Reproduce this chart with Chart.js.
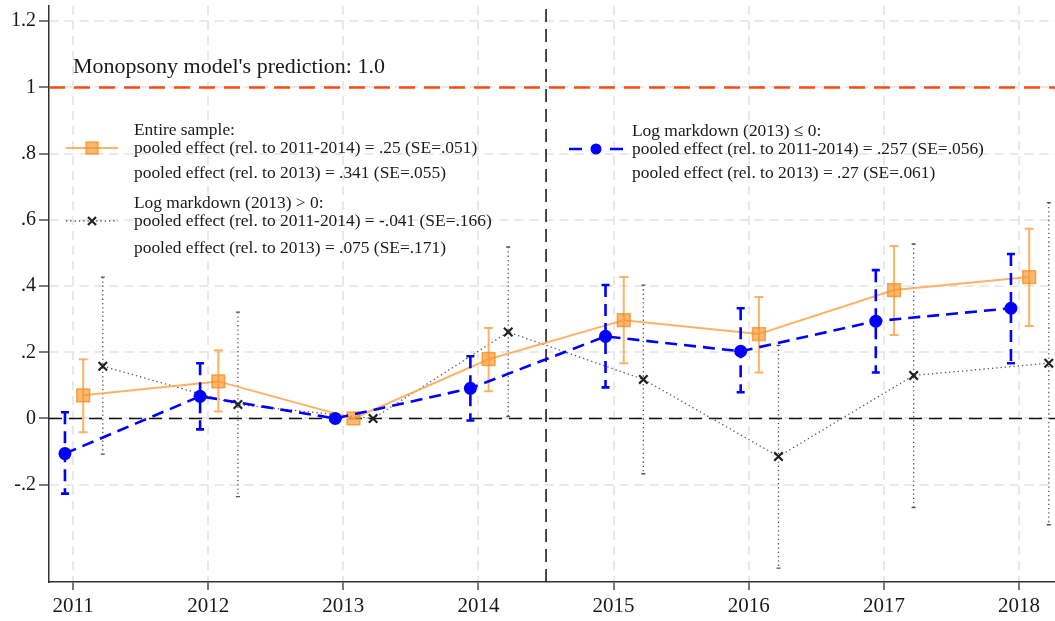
<!DOCTYPE html>
<html>
<head>
<meta charset="utf-8">
<script src="https://cdn.jsdelivr.net/npm/chart.js@4.4.1/dist/chart.umd.min.js"></script>
<style>
  html, body { margin: 0; padding: 0; background: #fff; }
  #wrap { width: 1055px; height: 621px; }
</style>
</head>
<body>
<div id="wrap"><canvas id="c" width="1055" height="621"></canvas></div>
<script>
// Event-study coefficients by year (2013 is the reference year)
const years = [2011, 2012, 2013, 2014, 2015, 2016, 2017, 2018];
const xTickLabels = ['2011', '2012', '2013', '2014', '2015', '2016', '2017', '2018'];
const yTicks = [-0.2, 0, 0.2, 0.4, 0.6, 0.8, 1.0, 1.2];
const yTickLabels = ['-.2', '0', '.2', '.4', '.6', '.8', '1', '1.2'];

// Entire sample
const entireEst = [0.070, 0.112, 0, 0.179, 0.297, 0.255, 0.388, 0.427];
const entireLo  = [-0.042, 0.021, null, 0.082, 0.167, 0.139, 0.252, 0.279];
const entireHi  = [0.179, 0.206, null, 0.273, 0.427, 0.367, 0.521, 0.573];

// Log markdown (2013) <= 0
const lowEst = [-0.106, 0.067, 0, 0.091, 0.248, 0.203, 0.294, 0.333];
const lowLo  = [-0.227, -0.033, null, -0.006, 0.094, 0.079, 0.139, 0.167];
const lowHi  = [0.019, 0.167, null, 0.188, 0.403, 0.333, 0.448, 0.497];

// Log markdown (2013) > 0
const highEst = [0.158, 0.042, 0, 0.261, 0.118, -0.115, 0.130, 0.167];
const highLo  = [-0.108, -0.236, null, 0.006, -0.167, -0.452, -0.269, -0.321];
const highHi  = [0.427, 0.321, null, 0.518, 0.403, 0.221, 0.527, 0.652];

// Reference lines
const zeroLine = 0;
const predictionLine = 1.0;
const policyYear = 2014.5;

// Horizontal offsets so the three series don't overlap
const offsets = { low: -0.06, entire: 0.075, high: 0.22 };
const xRange = [2010.822, 2018.266];
const yRange = [-0.494, 1.246];

const FONT = "'Liberation Serif', 'Times New Roman', serif";

const ORANGE_LINE = 'rgba(253, 170, 90, 0.9)';
const ORANGE_FILL = 'rgba(247, 148, 40, 0.65)';
const ORANGE_EDGE = 'rgba(247, 140, 30, 0.75)';
const BLUE = '#0000ff';
const DOT_GRAY = '#555555';
const RED = '#ff4a12';

const pts = (est, off) => years.map((yr, i) => ({ x: yr + off, y: est[i] }));

const series = {
  entire: { lo: entireLo, hi: entireHi, off: offsets.entire, color: ORANGE_LINE, width: 2, dash: [], cap: 4.5 },
  low:    { lo: lowLo, hi: lowHi, off: offsets.low, color: BLUE, width: 2.6, dash: [12, 7], cap: 4 },
  high:   { lo: highLo, hi: highHi, off: offsets.high, color: DOT_GRAY, width: 1.3, dash: [1.3, 3], cap: 2 }
};

// Confidence intervals are drawn just before their own series
const errorBars = {
  id: 'errorBars',
  beforeDatasetDraw(chart, args) {
    const key = chart.data.datasets[args.index].seriesKey;
    if (!key) return;
    const s = series[key];
    const { ctx, chartArea: a, scales: { x, y } } = chart;
    ctx.save();
    ctx.beginPath();
    ctx.rect(a.left, a.top, a.width, a.height);
    ctx.clip();
    ctx.strokeStyle = s.color;
    ctx.lineWidth = s.width;
    s.lo.forEach((lo, i) => {
      const hi = s.hi[i];
      if (lo == null || hi == null) return;
      const px = x.getPixelForValue(years[i] + s.off);
      const p1 = y.getPixelForValue(lo);
      const p2 = y.getPixelForValue(hi);
      ctx.setLineDash(s.dash);
      ctx.beginPath();
      ctx.moveTo(px, p2);
      ctx.lineTo(px, p1);
      ctx.stroke();
      ctx.setLineDash([]);
      ctx.beginPath();
      ctx.moveTo(px - s.cap, p1); ctx.lineTo(px + s.cap, p1);
      ctx.moveTo(px - s.cap, p2); ctx.lineTo(px + s.cap, p2);
      ctx.stroke();
    });
    ctx.restore();
  }
};

// In-plot legend and the prediction label
const annotations = {
  id: 'annotations',
  afterDatasetsDraw(chart) {
    const { ctx } = chart;
    ctx.save();
    ctx.fillStyle = '#1a1a1a';
    ctx.textBaseline = 'middle';
    ctx.textAlign = 'left';

    ctx.font = `22px ${FONT}`;
    ctx.fillText("Monopsony model's prediction: 1.0", 73, 67);

    ctx.font = `17.4px ${FONT}`;
    const blocks = [
      { x: 134, ys: [130, 148, 173], lines: ['Entire sample:', 'pooled effect (rel. to 2011-2014) = .25 (SE=.051)', 'pooled effect (rel. to 2013) = .341 (SE=.055)'] },
      { x: 134, ys: [203, 221, 248], lines: ['Log markdown (2013) > 0:', 'pooled effect (rel. to 2011-2014) = -.041 (SE=.166)', 'pooled effect (rel. to 2013) = .075 (SE=.171)'] },
      { x: 632, ys: [131, 149, 173], lines: ['Log markdown (2013) \u2264 0:', 'pooled effect (rel. to 2011-2014) = .257 (SE=.056)', 'pooled effect (rel. to 2013) = .27 (SE=.061)'] }
    ];
    blocks.forEach(b => b.lines.forEach((t, i) => ctx.fillText(t, b.x, b.ys[i])));

    // Orange key
    ctx.strokeStyle = ORANGE_LINE;
    ctx.lineWidth = 2;
    ctx.beginPath(); ctx.moveTo(66, 148); ctx.lineTo(118, 148); ctx.stroke();
    ctx.fillStyle = ORANGE_FILL;
    ctx.strokeStyle = ORANGE_EDGE;
    ctx.lineWidth = 1.5;
    ctx.fillRect(86, 142, 12, 12);
    ctx.strokeRect(86, 142, 12, 12);

    // Black key
    ctx.strokeStyle = DOT_GRAY;
    ctx.lineWidth = 1.3;
    ctx.setLineDash([1.3, 3]);
    ctx.beginPath(); ctx.moveTo(66, 221); ctx.lineTo(118, 221); ctx.stroke();
    ctx.setLineDash([]);
    ctx.strokeStyle = '#222';
    ctx.lineWidth = 2.2;
    ctx.beginPath();
    ctx.moveTo(88, 217); ctx.lineTo(96, 225);
    ctx.moveTo(96, 217); ctx.lineTo(88, 225);
    ctx.stroke();

    // Blue key
    ctx.strokeStyle = BLUE;
    ctx.lineWidth = 2.6;
    ctx.beginPath();
    ctx.moveTo(569, 149); ctx.lineTo(582, 149);
    ctx.moveTo(610, 149); ctx.lineTo(623, 149);
    ctx.stroke();
    ctx.fillStyle = BLUE;
    ctx.beginPath(); ctx.arc(596, 149, 5.5, 0, Math.PI * 2); ctx.fill();

    ctx.restore();
  }
};

new Chart(document.getElementById('c'), {
  type: 'line',
  data: {
    datasets: [
      {
        label: 'Log markdown (2013) \u2264 0',
        seriesKey: 'low',
        data: pts(lowEst, offsets.low),
        borderColor: BLUE,
        borderWidth: 2.6,
        borderDash: [12, 7],
        pointStyle: 'circle',
        pointRadius: 6.5,
        pointBackgroundColor: BLUE,
        pointBorderColor: BLUE,
        pointBorderWidth: 0,
        order: 1
      },
      {
        label: 'Entire sample',
        seriesKey: 'entire',
        data: pts(entireEst, offsets.entire),
        borderColor: ORANGE_LINE,
        borderWidth: 2,
        pointStyle: 'rect',
        pointRadius: 9,
        pointBackgroundColor: ORANGE_FILL,
        pointBorderColor: ORANGE_EDGE,
        pointBorderWidth: 1.5,
        order: 2
      },
      {
        label: 'Log markdown (2013) > 0',
        seriesKey: 'high',
        data: pts(highEst, offsets.high),
        borderColor: DOT_GRAY,
        borderWidth: 1.3,
        borderDash: [1.3, 3],
        pointStyle: 'crossRot',
        pointRadius: 6,
        pointBorderColor: '#222',
        pointBorderWidth: 2.2,
        order: 3
      },
      {
        label: 'prediction',
        data: [{ x: xRange[0], y: predictionLine }, { x: xRange[1], y: predictionLine }],
        borderColor: RED,
        borderWidth: 2.6,
        borderDash: [16, 9],
        pointRadius: 0,
        order: 10
      },
      {
        label: 'zero',
        data: [{ x: xRange[0], y: zeroLine }, { x: xRange[1], y: zeroLine }],
        borderColor: '#111',
        borderWidth: 1.5,
        borderDash: [13, 7],
        pointRadius: 0,
        order: 11
      },
      {
        label: 'policy',
        data: [{ x: policyYear, y: yRange[0] }, { x: policyYear, y: yRange[1] }],
        borderColor: '#111',
        borderWidth: 1.5,
        borderDash: [13, 7],
        pointRadius: 0,
        order: 12
      }
    ]
  },
  options: {
    responsive: false,
    animation: false,
    events: [],
    layout: { autoPadding: false, padding: { top: 6, right: 0, left: 0, bottom: 0 } },
    plugins: { legend: { display: false }, tooltip: { enabled: false } },
    scales: {
      x: {
        type: 'linear',
        min: xRange[0],
        max: xRange[1],
        afterBuildTicks: s => { s.ticks = years.map(v => ({ value: v })); },
        afterFit: s => { s.height = 39; s.paddingLeft = 0; s.paddingRight = 0; },
        ticks: {
          callback: (v, i) => xTickLabels[i],
          font: { family: FONT, size: 21 },
          color: '#1a1a1a',
          padding: 4,
          maxRotation: 0,
          autoSkip: false
        },
        grid: {
          color: '#e9e9e9',
          lineWidth: 2,
          tickColor: '#333',
          tickLength: 8,
          tickWidth: 1.3
        },
        border: { display: true, color: '#333', width: 1.5, dash: [9, 6] }
      },
      y: {
        type: 'linear',
        min: yRange[0],
        max: yRange[1],
        afterBuildTicks: s => { s.ticks = yTicks.map(v => ({ value: v })); },
        afterFit: s => { s.width = 49; s.paddingTop = 0; s.paddingBottom = 0; },
        ticks: {
          callback: (v, i) => yTickLabels[i],
          font: { family: FONT, size: 20 },
          color: '#1a1a1a',
          padding: 3,
          autoSkip: false
        },
        grid: {
          color: '#e9e9e9',
          lineWidth: 2,
          tickColor: '#333',
          tickLength: 10,
          tickWidth: 1.3
        },
        border: { display: true, color: '#333', width: 1.5, dash: [9, 6] }
      }
    }
  },
  plugins: [errorBars, annotations]
});
</script>
</body>
</html>
